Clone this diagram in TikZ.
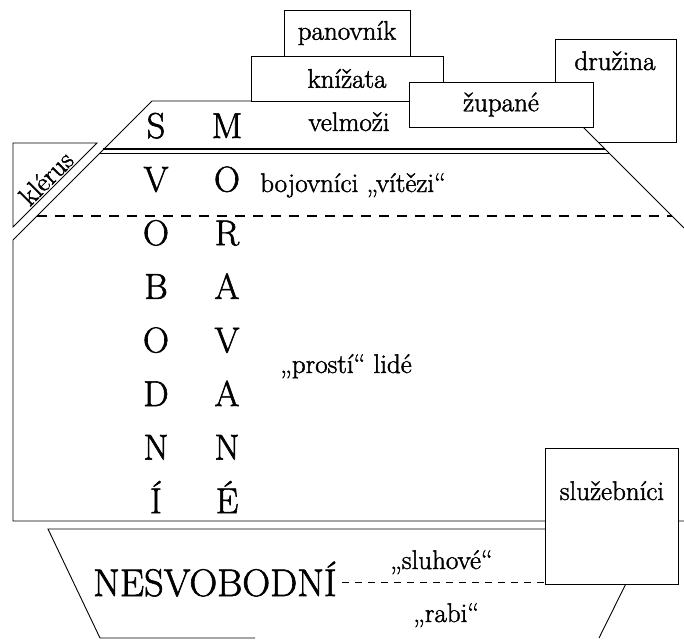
\documentclass[tikz,border=0pt]{standalone}
\usepackage{fontspec}
\setmainfont{Latin Modern Roman}[FakeBold=1.6]
\begin{document}
\begin{tikzpicture}[x=1pt,y=-1pt,
  ln/.style={line width=0.9pt, line join=miter},
  box/.style={draw, fill=white, line width=0.9pt, inner sep=0pt},
  small/.style={font=\fontsize{27}{32}\selectfont, inner sep=0pt},
  big/.style={font=\fontsize{36}{42}\selectfont, inner sep=0pt, anchor=base},
  huge/.style={font=\fontsize{38.5}{44}\selectfont, inner sep=0pt, anchor=base west},
  dline/.style={line width=1.4pt, dash pattern=on 10pt off 8pt},
  dlow/.style={line width=1pt, dash pattern=on 7pt off 6pt}]
\useasboundingbox (0,0) rectangle (684,639);

% družina (behind)
\node[box, minimum width=121pt, minimum height=103pt, anchor=north west] (druzina) at (555,39) {};
\node[small, anchor=base] (druzinaT) at (615,70) {družina};

% main body
\fill[white] (152,101) -- (557,101) -- (684,228) -- (684,521) -- (13,521) -- (13,240) -- cycle;
\draw[ln] (684,228) -- (557,101) -- (152,101) -- (13,240) -- (13,521) -- (684,521);
\draw[line width=1.3pt] (103,149) -- (605,149);
\draw[line width=1.3pt] (99.5,153.5) -- (609.5,153.5);
\draw[dline] (37,216) -- (672,216);

% klérus
\draw[ln, fill=white] (13,143) -- (97,143) -- (13,227) -- cycle;
\node[small, rotate=45] (klerus) at (46,178) {klérus};

% top boxes
\node[box, small, minimum width=126pt, minimum height=46pt] (panovnik) at (347,33) {panovník};
\node[box, small, minimum width=192pt, minimum height=45pt] (knizata) at (347,78.5) {knížata};
\node[box, small, minimum width=184pt, minimum height=45pt] (zupane) at (501,104.5) {župané};

% columns
\foreach \L [count=\i from 0] in {S,V,O,B,O,D,N,Í}
  \node[big] (s\i) at (156,{138+53.6*\i}) {\L};
\foreach \L [count=\i from 0] in {M,O,R,A,V,A,N,É}
  \node[big] (m\i) at (227,{138+53.6*\i}) {\L};

% texts
\node[small, anchor=base] (velmozi) at (349,131) {velmoži};
\node[small, anchor=base west] (bojovnici) at (260,192) {bojovníci „vítězi“};
\node[small, anchor=base west] (prosti) at (280,373) {„prostí“ lidé};

% lower trapezoid
\draw[ln] (599,638) -- (653,529) -- (48,529) -- (100,638) -- (255,638);

% služebníci
\node[box, minimum width=133pt, minimum height=136pt, anchor=north west] (sluzeb) at (545,448) {};
\node[small, anchor=base] (sluzebT) at (612,500) {služebníci};

\node[huge] (nes) at (93,596) {NESVOBODNÍ};
\draw[dlow] ([xshift=5pt]nes.east |- 0,582) -- (sluzeb.west |- 0,582);
\node[small, anchor=base west] (sluhove) at (390,569) {„sluhové“};
\node[small, anchor=base west] (rabi) at (413,622) {„rabi“};
\end{tikzpicture}
\end{document}
